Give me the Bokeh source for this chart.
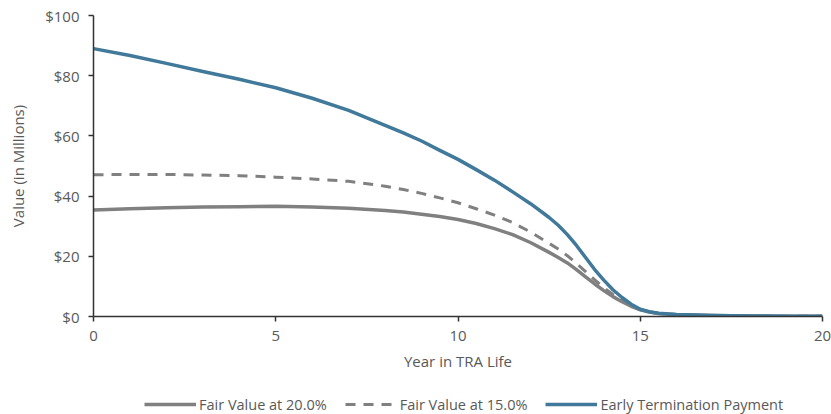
from bokeh.plotting import figure
from bokeh.layouts import column
from bokeh.models import Range1d, Legend, LegendItem, FixedTicker, NumeralTickFormatter, ColumnDataSource
from bokeh.embed import file_html
from bokeh.resources import INLINE

years = [0, 1, 2, 3, 4, 5, 6, 7, 8, 8.5, 9, 9.5, 10, 10.5, 11, 11.5, 12, 12.5,
         12.75, 13, 13.25, 13.5, 13.75, 14, 14.25, 14.5, 14.75, 15, 15.25, 15.5, 16, 17, 18, 19, 20]
fair_value_20 = [35.4, 35.8, 36.1, 36.4, 36.5, 36.6, 36.4, 36.0, 35.2,
                 34.7, 34.0, 33.2, 32.2, 30.9, 29.2, 27.2, 24.5, 21.3,
                 19.6, 17.8, 15.6, 13.2, 10.8, 8.6, 6.6, 4.9, 3.4, 2.2, 1.5, 1.0, 0.6, 0.3, 0.15, 0.1, 0.05]
fair_value_15 = [47.1, 47.2, 47.2, 47.0, 46.8, 46.3, 45.7, 44.9, 43.3,
                 42.2, 40.9, 39.4, 37.8, 35.8, 33.7, 31.2, 28.0, 24.3,
                 22.4, 20.2, 17.6, 14.9, 12.2, 9.6, 7.3, 5.3, 3.6, 2.3, 1.5, 1.0, 0.6, 0.3, 0.15, 0.1, 0.05]
early_termination = [89.0, 86.7, 84.1, 81.4, 78.8, 76.0, 72.5, 68.5, 63.5,
                     61.0, 58.3, 55.2, 52.2, 48.8, 45.3, 41.4, 37.4, 32.9,
                     30.3, 27.2, 23.6, 19.6, 15.6, 12.1, 8.9, 6.3, 4.1, 2.4, 1.6, 1.1, 0.7, 0.3, 0.15, 0.1, 0.05]
x_ticks = [0, 5, 10, 15, 20]
y_ticks = [0, 20, 40, 60, 80, 100]
series_names = ["Fair Value at 20.0%", "Fair Value at 15.0%", "Early Termination Payment"]

FONT = "Open Sans"
TXT = "#595959"
GRAY = "#808080"
BLUE = "#41799B"

src = ColumnDataSource(dict(x=years, a=fair_value_20, b=fair_value_15, c=early_termination))

p = figure(width=831, height=394, output_backend="svg", toolbar_location=None,
           x_range=Range1d(0, 20), y_range=Range1d(0, 100),
           min_border_left=93, min_border_right=9, min_border_top=15, min_border_bottom=78)
p.outline_line_color = None
p.xgrid.visible = False
p.ygrid.visible = False

p.line("x", "a", source=src, line_color=GRAY, line_width=3.5, line_join="round")
p.line("x", "b", source=src, line_color=GRAY, line_width=3, line_dash="10 8", line_join="round")
p.line("x", "c", source=src, line_color=BLUE, line_width=3.5, line_join="round")

for ax in (p.xaxis[0], p.yaxis[0]):
    ax.axis_line_color = "#333333"
    ax.axis_line_width = 1.5
    ax.major_tick_line_color = "#333333"
    ax.major_tick_line_width = 1.5
    ax.major_tick_out = 5
    ax.major_tick_in = 0
    ax.minor_tick_line_color = None
    ax.major_label_text_font = FONT
    ax.major_label_text_font_size = "15px"
    ax.major_label_text_color = TXT
    ax.axis_label_text_font = FONT
    ax.axis_label_text_font_size = "15px"
    ax.axis_label_text_color = TXT
    ax.axis_label_text_font_style = "normal"

p.xaxis.ticker = FixedTicker(ticks=x_ticks)
p.yaxis.ticker = FixedTicker(ticks=y_ticks)
p.yaxis.formatter = NumeralTickFormatter(format="$0")
p.xaxis.axis_label = "Year in TRA Life"
p.yaxis.axis_label = "Value (in Millions)"
p.xaxis.major_label_standoff = 9
p.xaxis.axis_label_standoff = 7
p.yaxis.major_label_standoff = 9
p.yaxis.axis_label_standoff = 14

# legend strip below the chart (renderers here lie outside this strip's view)
leg = figure(width=831, height=20, output_backend="svg", toolbar_location=None,
             x_range=Range1d(-100, -99), y_range=Range1d(-100, -99),
             x_axis_location=None, y_axis_location=None,
             min_border_left=0, min_border_right=0, min_border_top=0, min_border_bottom=0)
leg.outline_line_color = None
leg.grid.visible = False
l1 = leg.line("x", "a", source=src, line_color=GRAY, line_width=3.5)
l2 = leg.line("x", "b", source=src, line_color=GRAY, line_width=3, line_dash="10 8")
l3 = leg.line("x", "c", source=src, line_color=BLUE, line_width=3.5)

legend = Legend(items=[LegendItem(label=series_names[0], renderers=[l1]),
                       LegendItem(label=series_names[1], renderers=[l2]),
                       LegendItem(label=series_names[2], renderers=[l3])],
                orientation="horizontal", location=(51, 0),
                glyph_width=52, glyph_height=20, label_height=20, label_standoff=3, spacing=18,
                padding=0, margin=0, border_line_color=None, background_fill_alpha=0,
                label_text_font=FONT, label_text_font_size="14.5px", label_text_color=TXT)
leg.add_layout(legend, "center")

layout = column(p, leg, spacing=0)
open("out.html", "w").write(file_html(layout, INLINE))
